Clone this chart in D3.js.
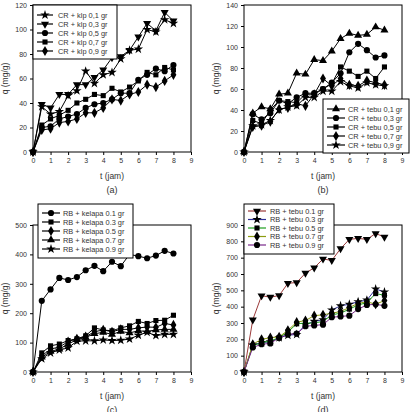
<!DOCTYPE html>
<html>
<head>
<meta charset="utf-8">
<script src="https://cdn.jsdelivr.net/npm/d3@7"></script>
<style>
  body { margin: 0; background: #fff; }
  svg { font-family: "Liberation Sans", Arial, sans-serif; }
</style>
</head>
<body>
<div id="chart"></div>
<script>
// time points (jam)
const times = [0, 0.5, 1, 1.5, 2, 2.5, 3, 3.5, 4, 4.5, 5, 5.5, 6, 6.5, 7, 7.5, 8];

// (a) CR + klp
const aLabels = ["CR + klp 0,1 gr", "CR + klp 0,3 gr", "CR + klp 0,5 gr", "CR + klp 0,7 gr", "CR + klp 0,9 gr"];
const a01 = [0, 37, 31, 33, 46, 50, 66, 56, 63, 65, 76, 83, 84, 100, 98, 108, 105];
const a03 = [0, 39, 36, 47, 47, 55, 55, 61, 67, 77, 78, 83, 94, 105, 99, 114, 107];
const a05 = [0, 20, 21, 27, 29, 31, 36, 39, 40, 43, 48, 48, 59, 63, 68, 66, 71];
const a07 = [0, 22, 27, 30, 34, 40, 43, 47, 46, 52, 49, 53, 58, 65, 63, 69, 67];
const a09 = [0, 18, 19, 24, 25, 27, 32, 32, 36, 43, 42, 47, 49, 55, 53, 58, 63];

// (b) CR + tebu
const bLabels = ["CR + tebu 0,1 gr", "CR + tebu 0,3 gr", "CR + tebu 0,5 gr", "CR + tebu 0,7 gr", "CR + tebu 0,9 gr"];
const b01 = [0, 37, 43, 41, 55, 56, 75, 74, 88, 87, 96, 108, 113, 111, 112, 119, 116];
const b03 = [0, 36, 31, 37, 49, 46, 52, 56, 56, 60, 66, 75, 95, 103, 97, 90, 92];
const b05 = [0, 30, 27, 40, 49, 48, 47, 55, 55, 60, 65, 81, 77, 72, 77, 70, 81];
const b07 = [0, 24, 25, 29, 41, 42, 46, 44, 55, 70, 63, 70, 64, 63, 68, 66, 64];
const b09 = [0, 25, 26, 30, 40, 43, 44, 52, 52, 58, 58, 67, 63, 61, 66, 64, 63];

// (c) RB + kelapa
const cLabels = ["RB + kelapa 0.1 gr", "RB + kelapa 0.3 gr", "RB + kelapa 0.5 gr", "RB + kelapa 0.7 gr", "RB + kelapa 0.9 gr"];
const c01 = [0, 242, 281, 320, 313, 323, 346, 361, 343, 375, 360, 400, 394, 387, 396, 412, 403];
const c03 = [0, 65, 89, 95, 107, 113, 123, 150, 143, 140, 150, 157, 172, 165, 175, 176, 193];
const c05 = [0, 55, 78, 85, 103, 113, 120, 137, 143, 137, 145, 145, 150, 153, 152, 165, 160];
const c07 = [0, 50, 70, 78, 95, 110, 118, 130, 135, 128, 138, 133, 140, 138, 143, 145, 145];
const c09 = [0, 45, 65, 75, 82, 105, 106, 106, 109, 107, 108, 112, 125, 135, 124, 128, 128];

// (d) RB + tebu
const dLabels = ["RB + tebu 0.1 gr", "RB + tebu 0.3 gr", "RB + tebu  0.5 gr", "RB + tebu  0.7 gr", "RB + tebu  0.9 gr"];
const d01 = [0, 320, 467, 458, 468, 543, 548, 605, 638, 692, 683, 755, 812, 818, 812, 848, 826];
const d03 = [0, 165, 180, 185, 210, 225, 230, 290, 310, 320, 380, 405, 415, 430, 440, 508, 490];
const d05 = [0, 160, 180, 190, 210, 245, 295, 300, 300, 310, 350, 360, 385, 410, 425, 480, 470];
const d07 = [0, 170, 200, 210, 215, 255, 305, 315, 345, 350, 360, 370, 395, 420, 430, 415, 437];
const d09 = [0, 150, 170, 175, 210, 230, 235, 280, 285, 290, 335, 340, 345, 385, 410, 415, 405];

const svg = d3.select("#chart").append("svg")
    .attr("width", 413)
    .attr("height", 412);

const sym = {
    star: { type: d3.symbolStar, size: 28, rot: 0 },
    tri: { type: d3.symbolTriangle, size: 28, rot: 0 },
    tridown: { type: d3.symbolTriangle, size: 28, rot: 180 },
    circle: { type: d3.symbolCircle, size: 30, rot: 0 },
    square: { type: d3.symbolSquare, size: 26, rot: 0 },
    diamond: { type: d3.symbolDiamond, size: 30, rot: 0 }
};

const panels = [
    {
        box: { left: 33, right: 191, top: 5, bottom: 152 }, yMax: 120, yStep: 20, tag: "(a)", yLabelX: 5,
        series: [a01, a03, a05, a07, a09], labels: aLabels,
        markers: ["star", "tridown", "circle", "square", "diamond"],
        colors: ["#000", "#000", "#000", "#000", "#000"],
        legend: { x: 33, y: 5, w: 84, h: 54, row: 9, first: 10, lineX0: 37, lineX1: 53, textX: 58 }
    },
    {
        box: { left: 244, right: 402, top: 5, bottom: 152 }, yMax: 140, yStep: 20, tag: "(b)", yLabelX: 216,
        series: [b01, b03, b05, b07, b09], labels: bLabels,
        markers: ["tri", "circle", "square", "diamond", "star"],
        colors: ["#000", "#000", "#000", "#000", "#000"],
        legend: { x: 323, y: 99, w: 86, h: 54, row: 9, first: 10, lineX0: 327, lineX1: 345, textX: 348 }
    },
    {
        box: { left: 33, right: 191, top: 225, bottom: 372 }, yMax: 500, yStep: 100, tag: "(c)", yLabelX: 5,
        series: [c01, c03, c05, c07, c09], labels: cLabels,
        markers: ["circle", "square", "diamond", "tri", "star"],
        colors: ["#000", "#000", "#000", "#000", "#000"],
        legend: { x: 38, y: 204, w: 95, h: 54, row: 9, first: 9, lineX0: 42, lineX1: 60, textX: 63 }
    },
    {
        box: { left: 244, right: 402, top: 225, bottom: 372 }, yMax: 900, yStep: 100, tag: "(d)", yLabelX: 216,
        series: [d01, d03, d05, d07, d09], labels: dLabels,
        markers: ["tridown", "star", "square", "diamond", "circle"],
        colors: ["#9b3a3a", "#2e2e96", "#1e9e1e", "#8c9c10", "#7a2a8a"],
        legend: { x: 244, y: 204, w: 90, h: 50, row: 8.5, first: 7, lineX0: 248, lineX1: 266, textX: 270 }
    }
];

function drawMarker(g, kind, x, y) {
    const m = sym[kind];
    g.append("path")
        .attr("d", d3.symbol().type(m.type).size(m.size)())
        .attr("transform", `translate(${x},${y}) rotate(${m.rot})`)
        .attr("fill", "#000");
}

panels.forEach(p => {
    const b = p.box;
    const x = d3.scaleLinear().domain([0, 9]).range([b.left, b.right]);
    const y = d3.scaleLinear().domain([0, p.yMax]).range([b.bottom, b.top]);

    const g = svg.append("g");

    g.append("rect")
        .attr("x", b.left).attr("y", b.top)
        .attr("width", b.right - b.left).attr("height", b.bottom - b.top)
        .attr("fill", "none").attr("stroke", "#000").attr("stroke-width", 1);

    const xAxis = g.append("g")
        .attr("transform", `translate(0,${b.bottom})`)
        .call(d3.axisBottom(x).ticks(9).tickSize(3).tickSizeOuter(0));
    const yAxis = g.append("g")
        .attr("transform", `translate(${b.left},0)`)
        .call(d3.axisLeft(y).tickValues(d3.range(0, p.yMax + 1, p.yStep)).tickSize(3).tickSizeOuter(0));

    [xAxis, yAxis].forEach(ax => {
        ax.select(".domain").remove();
        ax.selectAll("line").attr("stroke", "#000");
        ax.selectAll("text")
            .attr("font-size", 7)
            .attr("fill", "#333")
            .attr("font-family", "Liberation Sans, Arial, sans-serif");
    });

    const line = d3.line().x((d, i) => x(times[i])).y(d => y(d));

    p.series.forEach((s, k) => {
        g.append("path")
            .datum(s)
            .attr("d", line)
            .attr("fill", "none")
            .attr("stroke", p.colors[k])
            .attr("stroke-width", 1);
        s.forEach((v, i) => drawMarker(g, p.markers[k], x(times[i]), y(v)));
    });

    // axis titles
    const midX = (b.left + b.right) / 2;
    g.append("text")
        .attr("x", midX).attr("y", b.bottom + 27)
        .attr("text-anchor", "middle")
        .attr("font-size", 8.5).attr("fill", "#333")
        .text("t (jam)");
    g.append("text")
        .attr("x", midX).attr("y", b.bottom + 41)
        .attr("text-anchor", "middle")
        .attr("font-size", 9).attr("fill", "#333")
        .text(p.tag);
    g.append("text")
        .attr("transform", `translate(${p.yLabelX + 3},${(b.top + b.bottom) / 2}) rotate(-90)`)
        .attr("text-anchor", "middle")
        .attr("font-size", 8.5).attr("fill", "#333")
        .text("q (mg/g)");

    // legend
    const L = p.legend;
    const lg = svg.append("g");
    lg.append("rect")
        .attr("x", L.x).attr("y", L.y)
        .attr("width", L.w).attr("height", L.h)
        .attr("fill", "#fff").attr("stroke", "#000").attr("stroke-width", 1);
    p.labels.forEach((lab, k) => {
        const ly = L.y + L.first + k * L.row;
        lg.append("line")
            .attr("x1", L.lineX0).attr("x2", L.lineX1)
            .attr("y1", ly).attr("y2", ly)
            .attr("stroke", p.colors[k]).attr("stroke-width", 1.2);
        drawMarker(lg, p.markers[k], (L.lineX0 + L.lineX1) / 2, ly);
        lg.append("text")
            .attr("x", L.textX).attr("y", ly)
            .attr("dy", "0.35em")
            .attr("font-size", 7.4).attr("fill", "#333")
            .text(lab);
    });
});
</script>
</body>
</html>
